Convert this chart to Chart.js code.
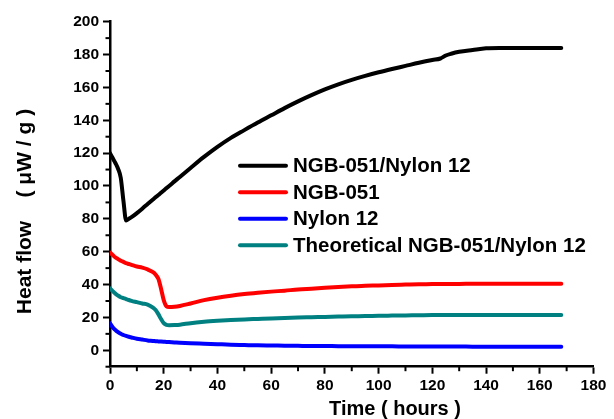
<!DOCTYPE html>
<html>
<head>
<meta charset="utf-8">
<script src="https://cdn.jsdelivr.net/npm/chart.js@4/dist/chart.umd.min.js"></script>
<style>
  html, body { margin: 0; padding: 0; background: #ffffff; }
  #wrap { width: 614px; height: 419px; }
</style>
</head>
<body>
<div id="wrap"><canvas id="c" width="614" height="419"></canvas></div>
<script>
// ---- Data ----
const timeHours = [0,1,2,3,4,5,6,7,8,10,12,14,16,17,18,19,20,21,22,24,26,30,35,40,45,50,55,60,65,70,75,80,85,90,95,100,105,110,115,120,123,125,127,130,135,140,145,150,155,160,165,168];

const composite = [120,117,114,110.5,105,91,79,80,81,83.5,86.2,89,91.8,93.2,94.5,95.9,97.3,98.7,100,102.8,105.5,111,117.7,123.8,129.3,134,138.6,143,147.4,151.5,155.3,158.8,161.9,164.6,167,169.2,171.2,173.1,175,176.7,177.6,179.4,180.5,181.7,182.8,183.8,184,184,184,184,184,184];

const ngb051 = [59.5,58,56.5,55.5,54.5,53.8,53,52.5,52,51,50.3,49.2,47.5,46,43.5,37.5,30.5,26.8,26.3,26.5,27,28.5,30.5,32,33.2,34.2,35,35.7,36.3,37,37.5,38,38.5,38.9,39.3,39.5,39.8,40,40.2,40.3,40.4,40.4,40.4,40.4,40.5,40.5,40.5,40.5,40.5,40.5,40.5,40.5];

const nylon12 = [16.4,14,12.3,11,10,9.3,8.7,8.2,7.8,7,6.5,6,5.7,5.5,5.4,5.3,5.2,5.1,5,4.8,4.6,4.3,4,3.7,3.4,3.2,3,2.9,2.8,2.7,2.6,2.6,2.5,2.5,2.4,2.4,2.4,2.3,2.3,2.3,2.3,2.3,2.3,2.3,2.2,2.2,2.2,2.2,2.2,2.2,2.2,2.2];

const theoretical = [37.7,36,34.5,33.3,32.3,31.8,31.2,30.6,30.1,29.3,28.5,27.8,26,24.5,22,19,16.5,15.5,15.3,15.4,15.6,16.5,17.3,17.9,18.4,18.8,19.1,19.4,19.6,19.9,20.1,20.3,20.5,20.7,20.8,21,21.1,21.2,21.3,21.4,21.5,21.5,21.5,21.5,21.5,21.5,21.5,21.5,21.5,21.5,21.5,21.5];

const seriesNames = ["NGB-051/Nylon 12", "NGB-051", "Nylon 12", "Theoretical NGB-051/Nylon 12"];
const seriesColors = ["#000000", "#ff0000", "#0000ff", "#008080"];
const seriesValues = [composite, ngb051, nylon12, theoretical];

const xTickValues = [0,20,40,60,80,100,120,140,160,180];
const yTickValues = [0,20,40,60,80,100,120,140,160,180,200];

const xTitle = "Time ( hours )";
const yTitle = "Heat flow    ( \u03bcW / g )";

// ---- Build datasets ----
const datasets = seriesValues.map((vals, i) => ({
  label: seriesNames[i],
  data: timeHours.map((t, k) => ({ x: t, y: vals[k] })),
  borderColor: seriesColors[i],
  backgroundColor: seriesColors[i],
  borderWidth: 4,
  pointRadius: 0,
  fill: false,
  cubicInterpolationMode: 'monotone',
  borderCapStyle: 'round',
  borderJoinStyle: 'round'
}));

const FONT = "'Liberation Sans', Arial, sans-serif";

// minor ticks + axis titles + legend
const decor = {
  id: 'decor',
  afterDraw(chart) {
    const ctx = chart.ctx;
    const xs = chart.scales.x, ys = chart.scales.y;
    const ca = chart.chartArea;
    ctx.save();
    ctx.strokeStyle = '#000';
    ctx.lineWidth = 2;
    // minor ticks
    xs.ticks.forEach(t => {
      if (xTickValues.indexOf(t.value) < 0) {
        const px = xs.getPixelForValue(t.value);
        ctx.beginPath(); ctx.moveTo(px, ca.bottom); ctx.lineTo(px, ca.bottom + 4.5); ctx.stroke();
      }
    });
    ys.ticks.forEach(t => {
      if (yTickValues.indexOf(t.value) < 0) {
        const py = ys.getPixelForValue(t.value);
        ctx.beginPath(); ctx.moveTo(ca.left, py); ctx.lineTo(ca.left - 4.5, py); ctx.stroke();
      }
    });
    ctx.fillStyle = '#000';
    ctx.textAlign = 'center';
    ctx.textBaseline = 'middle';
    // x title
    ctx.font = "bold 20px " + FONT;
    ctx.fillText(xTitle, 395, 409);
    // y title
    ctx.font = "bold 21px " + FONT;
    ctx.translate(25, 211.5);
    ctx.rotate(-Math.PI / 2);
    ctx.fillText(yTitle, 0, 0);
    ctx.restore();

    // legend
    ctx.save();
    ctx.font = "bold 20.5px " + FONT;
    ctx.textAlign = 'left';
    ctx.textBaseline = 'middle';
    chart.data.datasets.forEach((ds, i) => {
      const y = 165.7 + i * 26.5;
      ctx.strokeStyle = ds.borderColor;
      ctx.lineWidth = 4;
      ctx.lineCap = 'round';
      ctx.beginPath(); ctx.moveTo(240, y); ctx.lineTo(286, y); ctx.stroke();
      ctx.fillStyle = '#000';
      ctx.fillText(ds.label, 293, y + 1);
    });
    ctx.restore();
  }
};

new Chart(document.getElementById('c'), {
  type: 'line',
  data: { datasets },
  options: {
    responsive: false,
    animation: false,
    devicePixelRatio: 1,
    layout: { padding: { top: 21.7, right: 20.5, left: 0, bottom: 0 } },
    plugins: { legend: { display: false }, tooltip: { enabled: false } },
    scales: {
      x: {
        type: 'linear',
        min: 0, max: 180,
        afterFit(s) { s.height = 52.3; },
        border: { display: true, color: '#000', width: 2.5 },
        grid: {
          drawOnChartArea: false, drawTicks: true, tickLength: 7,
          tickWidth: 2,
          tickColor: c => (xTickValues.indexOf(c.tick && c.tick.value) >= 0 ? '#000' : 'rgba(0,0,0,0)')
        },
        ticks: {
          stepSize: 10, autoSkip: false, maxRotation: 0, padding: 3,
          color: '#000',
          font: { family: FONT, size: 15.5, weight: 'bold' },
          callback: v => (xTickValues.indexOf(v) >= 0 ? String(v) : '')
        }
      },
      y: {
        type: 'linear',
        min: -10, max: 200,
        afterFit(s) { s.width = 110; },
        border: { display: true, color: '#000', width: 2.5 },
        grid: {
          drawOnChartArea: false, drawTicks: true, tickLength: 7,
          tickWidth: 2,
          tickColor: c => (yTickValues.indexOf(c.tick && c.tick.value) >= 0 ? '#000' : 'rgba(0,0,0,0)')
        },
        ticks: {
          stepSize: 10, autoSkip: false, padding: 4,
          color: '#000',
          font: { family: FONT, size: 15.5, weight: 'bold' },
          callback: v => (yTickValues.indexOf(v) >= 0 ? String(v) : '')
        }
      }
    }
  },
  plugins: [decor]
});
</script>
</body>
</html>
